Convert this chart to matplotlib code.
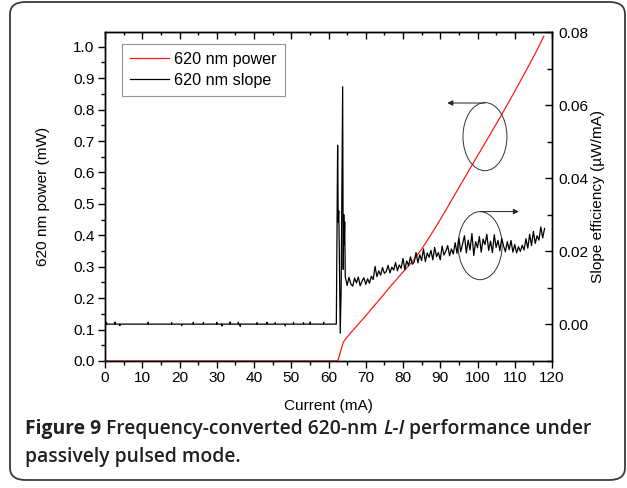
import numpy as np
import matplotlib
matplotlib.use("Agg")
import matplotlib.pyplot as plt
from matplotlib.patches import Ellipse, FancyBboxPatch
from matplotlib.ticker import MultipleLocator, FormatStrFormatter

plt.rcParams["font.family"] = ["Liberation Sans", "DejaVu Sans"]

# ---------------- data ----------------
# 620 nm power (mW) vs current (mA)
power_current = [0.0, 62.3, 62.6, 63.0, 63.4, 63.7, 64.0, 64.5, 66.0, 68.0, 70.0, 72.0,
                 74.0, 76.6, 80.0, 82.9, 85.0, 88.3, 91.0, 93.6, 96.0, 99.9, 103.0,
                 106.2, 110.0, 113.4, 116.0, 117.8]
power_mw = [0.0, 0.0, 0.005, 0.02, 0.037, 0.05, 0.06, 0.069, 0.09, 0.117, 0.144, 0.172,
            0.200, 0.237, 0.283, 0.322, 0.356, 0.417, 0.470, 0.523, 0.572, 0.651, 0.713,
            0.778, 0.858, 0.932, 0.990, 1.033]

# slope baseline below threshold: small blips (current, height)
blip_current = [0.4, 2.7, 4.0, 11.6, 17.9, 20.6, 23.7, 26.4, 30.0, 31.4, 33.6, 35.8,
                36.3, 40.8, 43.5, 45.7, 48.4, 50.6, 53.3, 55.1, 58.7]
blip_height = [0.0005, 0.0006, -0.0004, 0.0005, 0.0004, -0.0004, 0.0005, 0.0004, 0.0005,
               -0.0005, 0.0006, 0.0005, -0.0006, 0.0004, 0.0005, 0.0004, -0.0005, 0.0005,
               0.0004, 0.0006, 0.0005]

# threshold spikes
spike_current = [62.1, 62.45, 62.6, 62.75, 62.9, 63.15, 63.4, 63.8, 63.95, 64.1, 64.2, 64.35]
spike_slope = [0.0, 0.049, 0.028, 0.031, 0.020, -0.0025, 0.010, 0.065, 0.015, 0.030, 0.022, 0.028]

# slope above threshold (0.5 mA steps from 64.5), units 1e-3
above_start, above_step = 64.5, 0.5
above_slope_milli = [
    13.0, 10.6, 12.8, 11.0, 10.4, 12.6, 11.3, 12.9, 10.5, 11.8, 12.7, 10.9,
    12.4, 11.2, 13.1, 12.2, 15.8, 13.0, 14.6, 13.4, 15.5, 13.9, 14.4, 16.1,
    14.0, 15.6, 14.8, 16.9, 14.6, 16.2, 15.3, 18.0, 14.9, 17.3, 16.0, 18.4,
    16.4, 17.0, 19.6, 16.8, 19.0, 17.4, 20.6, 17.1, 19.5, 18.3, 20.2, 17.6,
    21.0, 18.5, 19.6, 17.6, 21.4, 18.9, 20.0, 21.5, 18.7, 20.6, 19.2, 22.3,
    19.4, 23.6, 19.8, 22.0, 24.2, 19.5, 23.0, 20.3, 24.8, 18.8, 22.6, 20.9,
    24.0, 19.7, 23.3, 21.8, 24.6, 20.2, 22.7, 19.6, 24.5, 21.0, 22.9, 20.1,
    23.5, 21.4, 19.8, 22.6, 20.4, 22.9, 19.7, 21.8, 19.5, 21.2, 19.9, 21.6,
    20.3, 23.4, 20.8, 24.6, 21.5, 25.4, 22.1, 24.2, 23.0, 26.6, 23.6, 26.2]

# ---------------- build slope trace ----------------
sx, sy = [0.0], [0.0]
for c, h in zip(blip_current, blip_height):
    sx += [c - 0.08, c, c + 0.08]
    sy += [0.0, h, 0.0]
sx += spike_current
sy += spike_slope
above_current = above_start + above_step * np.arange(len(above_slope_milli))
sx += list(above_current)
sy += list(np.array(above_slope_milli) * 1e-3)

# ---------------- figure ----------------
W, H = 627, 488
fig = plt.figure(figsize=(W / 100, H / 100), dpi=100)
fig.patch.set_facecolor("white")

border = FancyBboxPatch((10 / W, 8 / H), 615 / W, 478 / H,
                        boxstyle="round,pad=0,rounding_size=0.025",
                        transform=fig.transFigure, fill=False,
                        edgecolor="#3a3a3a", linewidth=1.3)
fig.patches.append(border)

fs = 11.1

ax = fig.add_axes([105 / W, 1 - 361 / H, 447 / W, 329 / H])
ax2 = ax.twinx()

ax.set_xlim(0, 120)
ax.set_ylim(0, 1.047)
ax2.set_ylim(-0.0101, 0.08)

ln1, = ax.plot(power_current, power_mw, color="#ff1a1a", lw=0.9, label="620 nm power")
ln2, = ax2.plot(sx, sy, color="black", lw=0.9, label="620 nm slope")

ax.xaxis.set_major_locator(MultipleLocator(10))
ax.xaxis.set_minor_locator(MultipleLocator(5))
ax.yaxis.set_major_locator(MultipleLocator(0.1))
ax.yaxis.set_minor_locator(MultipleLocator(0.05))
ax2.yaxis.set_major_locator(MultipleLocator(0.02))
ax2.yaxis.set_minor_locator(MultipleLocator(0.01))

ax.tick_params(axis="both", which="both", direction="out", labelsize=fs, pad=2.5)
ax.tick_params(which="major", length=5, width=1)
ax.tick_params(which="minor", length=2.8, width=1)
ax2.tick_params(axis="y", which="both", direction="in", labelsize=fs, pad=4.5)
ax2.tick_params(which="major", length=5, width=1)
ax2.tick_params(which="minor", length=3.5, width=1)

ax.yaxis.set_major_formatter(FormatStrFormatter("%.1f"))
ax2.yaxis.set_major_formatter(FormatStrFormatter("%.2f"))

# top ticks pointing inward
top = ax.secondary_xaxis("top")
top.xaxis.set_major_locator(MultipleLocator(10))
top.xaxis.set_minor_locator(MultipleLocator(5))
top.tick_params(which="both", direction="in", labeltop=False, width=1)
top.tick_params(which="major", length=5)
top.tick_params(which="minor", length=2.5)

for a in (ax, ax2):
    for s in a.spines.values():
        s.set_linewidth(1.0)

# axis titles
fig.text(328.5 / W, 1 - 406 / H, "Current (mA)", fontsize=fs, ha="center", va="center")
fig.text(43 / W, 1 - 196.5 / H, "620 nm power (mW)", fontsize=fs, ha="center",
         va="center", rotation=90)
fig.text(598 / W, 1 - 196.5 / H, "Slope efficiency (µW/mA)", fontsize=fs, ha="center",
         va="center", rotation=90)

leg = ax2.legend(handles=[ln1, ln2], loc="upper left", bbox_to_anchor=(0.038, 0.9635),
                 borderaxespad=0, fontsize=11.6, frameon=True, fancybox=False,
                 handlelength=2.4, handletextpad=0.35, borderpad=0.5, labelspacing=0.35)
leg.get_frame().set_edgecolor("#7a7a7a")
leg.get_frame().set_linewidth(0.8)

# annotations: ellipses with arrows
ax2.add_patch(Ellipse((102.0, 0.714), 11.8, 0.2166, transform=ax.transData,
                      fill=False, edgecolor="#333333", lw=0.7))
ax2.add_patch(Ellipse((100.7, 0.367), 11.8, 0.2166, transform=ax.transData,
                      fill=False, edgecolor="#333333", lw=0.7))
ax2.annotate("", xy=(91.9, 0.821), xytext=(102.0, 0.821), xycoords=ax.transData,
             textcoords=ax.transData,
             arrowprops=dict(arrowstyle="-|>", lw=0.7, color="#222222",
                             mutation_scale=8, shrinkA=0, shrinkB=0))
ax2.annotate("", xy=(111.1, 0.4755), xytext=(100.8, 0.4755), xycoords=ax.transData,
             textcoords=ax.transData,
             arrowprops=dict(arrowstyle="-|>", lw=0.7, color="#222222",
                             mutation_scale=8, shrinkA=0, shrinkB=0))

# ---------------- caption ----------------
cap_color = "#231f20"
cap_fs = 13.9
fig.canvas.draw()
renderer = fig.canvas.get_renderer()

def put(parts, x_px, y_px):
    x = x_px
    for txt, weight, style in parts:
        t = fig.text(x / W, 1 - y_px / H, txt, fontsize=cap_fs, color=cap_color,
                     family=["Open Sans", "DejaVu Sans"], weight=weight, style=style,
                     va="baseline", ha="left")
        bb = t.get_window_extent(renderer=renderer)
        x += bb.width

put([("Figure 9", "bold", "normal"),
     (" Frequency-converted 620-nm ", "semibold", "normal"),
     ("L-I", "semibold", "italic"),
     (" performance under", "semibold", "normal")], 25, 434)
put([("passively pulsed mode.", "semibold", "normal")], 25, 462)

fig.savefig("out.png", dpi=100, facecolor="white")
